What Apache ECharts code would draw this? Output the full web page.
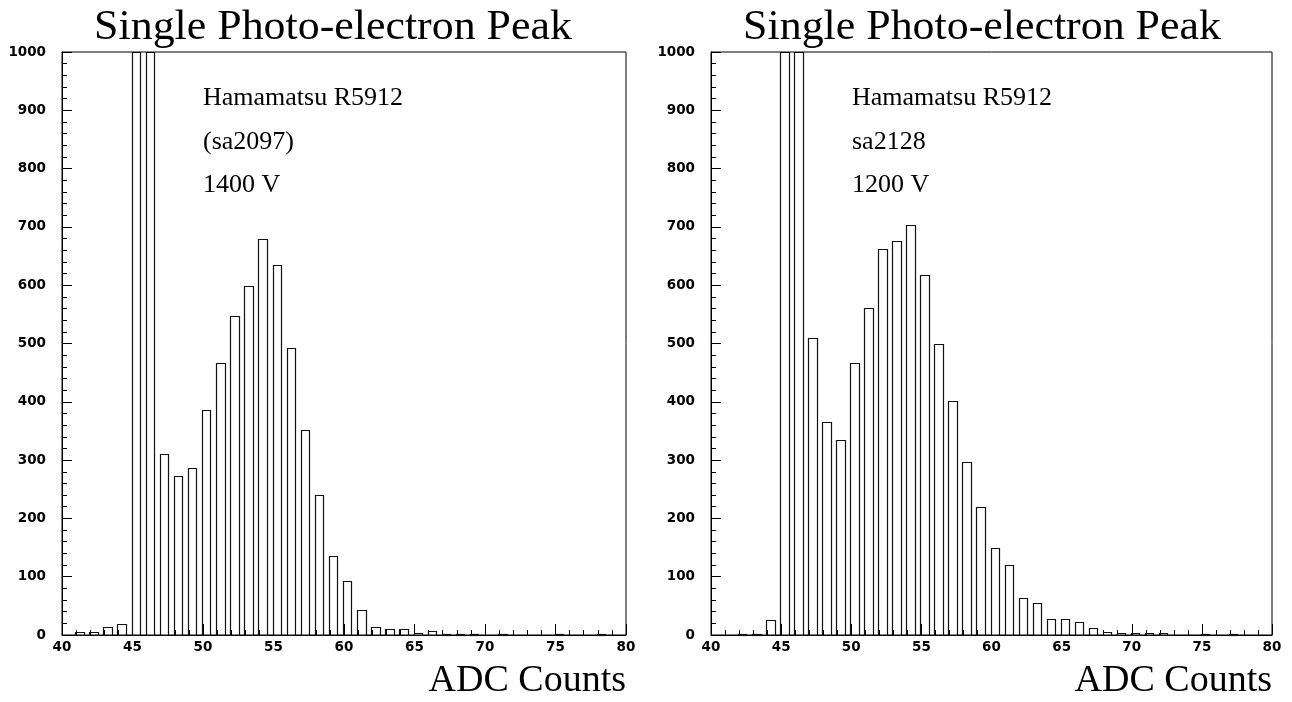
<!DOCTYPE html>
<html><head><meta charset="utf-8">
<script src="https://cdn.jsdelivr.net/npm/echarts@6/dist/echarts.min.js"></script>
<style>html,body{margin:0;padding:0;background:#fff;}#c{width:1292px;height:702px;}</style>
</head><body><div id="c"></div>
<script>
// ---- data ----
const bins = [40,41,42,43,44,45,46,47,48,49,50,51,52,53,54,55,56,57,58,59,
              60,61,62,63,64,65,66,67,68,69,70,71,72,73,74,75,76,77,78,79];
// bins 45 and 46 are off-scale (> 1000) in the reference
const countsLeft = [0,5,5,13,19,3000,2000,310,273,286,386,466,547,598,680,634,493,352,240,136,
                    92,43,13,10,10,3,7,2,2,2,0,2,0,0,0,2,0,0,2,0];
const countsRight = [0,0,2,2,25,3000,2000,510,366,334,466,561,662,675,704,618,499,402,297,220,
                     150,120,63,55,28,28,23,12,5,4,4,3,3,0,0,2,0,2,0,0];
const xTickLabels = [40,45,50,55,60,65,70,75,80];
const yTickLabels = [0,100,200,300,400,500,600,700,800,900,1000];
const titleText = 'Single Photo-electron Peak';
const notesLeft = ['Hamamatsu R5912','(sa2097)','1400 V'];
const notesRight = ['Hamamatsu R5912','sa2128','1200 V'];
const xTitle = 'ADC Counts';

// ---- chart ----
const chart = echarts.init(document.getElementById('c'), null, {renderer:'canvas'});
const grids = [
  {left:62, top:52, width:564, height:583},
  {left:711, top:52, width:561, height:583}
];
const xMin = xTickLabels[0], xMax = xTickLabels[xTickLabels.length-1];
const yMin = yTickLabels[0], yMax = yTickLabels[yTickLabels.length-1];
const labelFont = {color:'#000', fontFamily:'DejaVu Sans', fontWeight:'bold', fontSize:13.5};

function xAxis(i){
  return {type:'value', gridIndex:i, min:xMin, max:xMax, interval:5,
    axisLine:{show:true, onZero:false, lineStyle:{color:'#000', width:1}},
    axisTick:{show:true, inside:true, length:11, lineStyle:{color:'#000', width:1}},
    minorTick:{show:true, splitNumber:5, length:5, lineStyle:{color:'#000', width:1}},
    splitLine:{show:false}, minorSplitLine:{show:false},
    axisLabel:Object.assign({margin:5, showMinLabel:true, showMaxLabel:true, hideOverlap:false,
      formatter:(v)=> xTickLabels.includes(v) ? String(v) : ''}, labelFont)};
}
function yAxis(i){
  return {type:'value', gridIndex:i, min:yMin, max:yMax, interval:100,
    axisLine:{show:true, onZero:false, lineStyle:{color:'#000', width:1}},
    axisTick:{show:true, inside:true, length:10, lineStyle:{color:'#000', width:1}},
    minorTick:{show:true, splitNumber:5, length:5, lineStyle:{color:'#000', width:1}},
    splitLine:{show:false}, minorSplitLine:{show:false},
    axisLabel:Object.assign({margin:16, showMinLabel:true, showMaxLabel:true, hideOverlap:false,
      formatter:(v)=> yTickLabels.includes(v) ? String(v) : ''}, labelFont)};
}
function renderBar(params, api){
  const x = api.value(0), v = api.value(1);
  if (!(v > 0)) return null;
  const tl = api.coord([x - 0.07, v]);
  const br = api.coord([x + 0.53, 0]);
  const cs = params.coordSys;
  const r = echarts.graphic.clipRectByRect(
    {x:tl[0], y:tl[1], width:br[0]-tl[0], height:br[1]-tl[1]},
    {x:cs.x, y:cs.y, width:cs.width, height:cs.height});
  if (!r) return null;
  const x0 = Math.round(r.x)+0.5, x1 = Math.round(r.x+r.width)+0.5;
  const y0 = Math.round(r.y)+0.5, y1 = Math.round(r.y+r.height)+0.5;
  return {type:'rect', shape:{x:x0, y:y0, width:x1-x0, height:Math.max(1, y1-y0)},
    style:{fill:'none', stroke:'#111', lineWidth:1.2}};
}
function series(i, counts){
  return {type:'custom', xAxisIndex:i, yAxisIndex:i, clip:false, silent:true,
    data: bins.map((b,k)=>[b, counts[k]]), renderItem: renderBar};
}
function txt(x, y, text, font, align, sx){
  return {type:'text', x:x, y:y, scaleX: sx || 1, silent:true,
    style:{text:text, font:font, fill:'#000', align:align, verticalAlign:'middle',
           textAlign:align, textVerticalAlign:'middle'}};
}
const titleFont = '42px "Liberation Serif"';
const noteFont = '26px "Liberation Serif"';
const axisTitleFont = '38px "Liberation Serif"';
const graphics = [
  txt(333, 28, titleText, titleFont, 'center', 1.045),
  txt(982, 28, titleText, titleFont, 'center', 1.045),
  txt(626, 681, xTitle, axisTitleFont, 'right'),
  txt(1272, 681, xTitle, axisTitleFont, 'right')
];
const noteY = [98, 142, 185];
notesLeft.forEach((t,k)=>graphics.push(txt(203, noteY[k], t, noteFont, 'left')));
notesRight.forEach((t,k)=>graphics.push(txt(852, noteY[k], t, noteFont, 'left')));

chart.setOption({
  animation:false,
  backgroundColor:'#fff',
  grid: grids.map(g=>Object.assign({show:true, borderColor:'#000', borderWidth:1,
     backgroundColor:'transparent', containLabel:false, outerBoundsMode:'none'}, g)),
  xAxis:[xAxis(0), xAxis(1)],
  yAxis:[yAxis(0), yAxis(1)],
  series:[series(0, countsLeft), series(1, countsRight)],
  graphic: graphics
});
</script></body></html>
